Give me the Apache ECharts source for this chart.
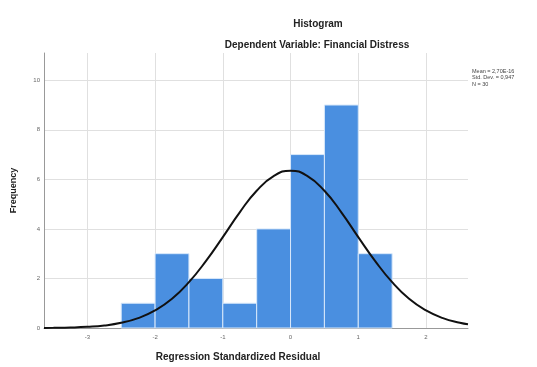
<!DOCTYPE html>
<html><head><meta charset="utf-8">
<script src="https://cdn.jsdelivr.net/npm/echarts@6/dist/echarts.min.js"></script>
<style>html,body{margin:0;padding:0;background:#fff}#c{width:537px;height:367px}</style>
</head><body><div id="c"></div>
<script>
// Histogram bins (lower edge, upper edge) and frequencies
var binStarts = [-2.5, -2.0, -1.5, -1.0, -0.5, 0.0, 0.5, 1.0];
var binEnds   = [-2.0, -1.5, -1.0, -0.5, 0.0, 0.5, 1.0, 1.5];
var counts    = [1, 3, 2, 1, 4, 7, 9, 3];
// Normal curve points
var curveX = [-3.64, -3.5, -3.25, -3.0, -2.75, -2.5, -2.25, -2.0, -1.75, -1.5, -1.25, -1.0, -0.75, -0.5, -0.25, 0.0, 0.25, 0.5, 0.75, 1.0, 1.25, 1.5, 1.75, 2.0, 2.25, 2.5, 2.62];
var curveY = [0.005, 0.008, 0.019, 0.046, 0.10, 0.21, 0.40, 0.71, 1.18, 1.85, 2.70, 3.67, 4.67, 5.54, 6.13, 6.35, 6.13, 5.54, 4.67, 3.67, 2.70, 1.85, 1.18, 0.71, 0.40, 0.21, 0.15];
var xTicks = [-3, -2, -1, 0, 1, 2];
var yTicks = [0, 2, 4, 6, 8, 10];
var statLines = ['Mean = 2,70E-16', 'Std. Dev. = 0,947', 'N = 30'];

var chart = echarts.init(document.getElementById('c'), null, {renderer: 'canvas'});
var barData = binStarts.map(function (s, i) { return [s, binEnds[i], counts[i]]; });
var curveData = curveX.map(function (x, i) { return [x, curveY[i]]; });

function isTick(arr, v) { for (var i = 0; i < arr.length; i++) if (Math.abs(arr[i] - v) < 1e-6) return true; return false; }

chart.setOption({
  animation: false,
  backgroundColor: '#fff',
  title: [
    {text: 'Histogram', left: 313, top: 14, textAlign: 'center',
     textStyle: {fontFamily: 'Liberation Sans', fontSize: 10, fontWeight: 'bold', color: '#222'}},
    {text: 'Dependent Variable: Financial Distress', left: 312, top: 35, textAlign: 'center',
     textStyle: {fontFamily: 'Liberation Sans', fontSize: 10, fontWeight: 'bold', color: '#222'}}
  ],
  graphic: [{
    type: 'text', left: 472, top: 68,
    style: {text: statLines.join('\n'), font: '5.5px "Liberation Sans"', fill: '#444', lineHeight: 6.5}
  }],
  grid: {left: 44, right: 69, top: 53, bottom: 36, containLabel: false},
  xAxis: {
    type: 'value', min: -3.64, max: 2.62, minInterval: 1, maxInterval: 1, splitNumber: 6,
    name: 'Regression Standardized Residual', nameLocation: 'middle', nameGap: 24,
    nameTextStyle: {fontFamily: 'Liberation Sans', fontSize: 10, fontWeight: 'bold', color: '#222', padding: [0, 36, 0, 0]},
    axisLine: {show: true, onZero: false, lineStyle: {color: '#999', width: 1}},
    axisTick: {show: false},
    axisLabel: {fontFamily: 'Liberation Sans', fontSize: 6, color: '#666', margin: 6,
      formatter: function (v) { return isTick(xTicks, v) ? String(v) : ''; }},
    splitLine: {show: true, showMinLine: false, showMaxLine: false, lineStyle: {color: '#e0e0e0', width: 1}}
  },
  yAxis: {
    type: 'value', min: 0, max: 11.1, minInterval: 2, maxInterval: 2,
    name: 'Frequency', nameLocation: 'middle', nameGap: 26, nameRotate: 90,
    nameTextStyle: {fontFamily: 'Liberation Sans', fontSize: 9, fontWeight: 'bold', color: '#222'},
    axisLine: {show: true, onZero: false, lineStyle: {color: '#999', width: 1}},
    axisTick: {show: false},
    axisLabel: {fontFamily: 'Liberation Sans', fontSize: 6, color: '#666', margin: 4,
      formatter: function (v) { return isTick(yTicks, v) ? String(v) : ''; }},
    splitLine: {show: true, showMinLine: false, showMaxLine: false, lineStyle: {color: '#e0e0e0', width: 1}}
  },
  series: [
    {
      type: 'custom',
      data: barData,
      renderItem: function (params, api) {
        var p0 = api.coord([api.value(0), api.value(2)]);
        var p1 = api.coord([api.value(1), 0]);
        return {
          type: 'rect',
          shape: {x: p0[0], y: p0[1], width: p1[0] - p0[0], height: p1[1] - p0[1]},
          style: {fill: '#4a8fe0', stroke: '#d8e8fa', lineWidth: 1}
        };
      },
      encode: {x: [0, 1], y: 2},
      z: 2
    },
    {
      type: 'line', data: curveData, smooth: true, symbol: 'none',
      lineStyle: {color: '#111', width: 2}, z: 3
    }
  ]
});
</script></body></html>
